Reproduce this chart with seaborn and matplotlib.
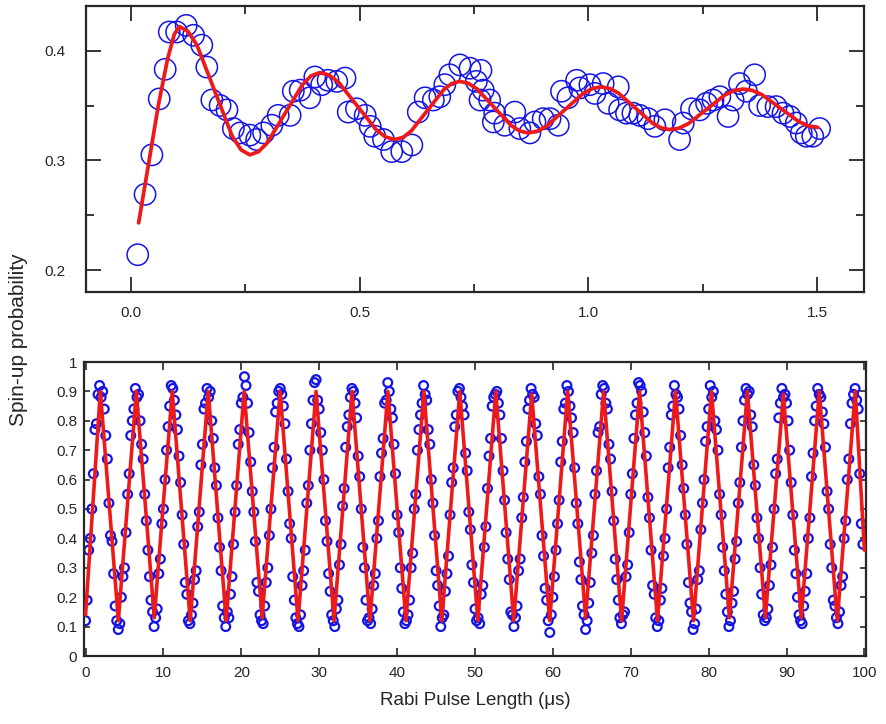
import matplotlib
matplotlib.use("Agg")
import matplotlib.pyplot as plt
import seaborn as sns
from matplotlib.ticker import FixedLocator, FixedFormatter

# ---------------------------------------------------------------------------
# Data
# ---------------------------------------------------------------------------

# top panel: short pulses, damped oscillation
TOP_T_US = [
    0.015, 0.031, 0.046, 0.062, 0.075, 0.084, 0.100, 0.121, 0.137, 0.155,
    0.166, 0.177, 0.195, 0.210, 0.224, 0.239, 0.260, 0.275, 0.290, 0.308,
    0.322, 0.348, 0.355, 0.370, 0.391, 0.402, 0.417, 0.431, 0.450, 0.468,
    0.475, 0.493, 0.512, 0.523, 0.533, 0.552, 0.570, 0.592, 0.614, 0.628,
    0.643, 0.661, 0.675, 0.686, 0.697, 0.719, 0.741, 0.755, 0.763, 0.765,
    0.770, 0.784, 0.795, 0.792, 0.817, 0.839, 0.850, 0.872, 0.883, 0.901,
    0.916, 0.934, 0.941, 0.955, 0.974, 0.981, 1.003, 1.014, 1.032, 1.043,
    1.065, 1.068, 1.083, 1.097, 1.112, 1.130, 1.145, 1.167, 1.199, 1.207,
    1.225, 1.243, 1.258, 1.272, 1.287, 1.305, 1.316, 1.330, 1.345, 1.363,
    1.374, 1.392, 1.410, 1.425, 1.440, 1.454, 1.465, 1.476, 1.490, 1.505,
]
TOP_P = [
    0.214, 0.269, 0.305, 0.356, 0.383, 0.417, 0.417, 0.423, 0.414, 0.405,
    0.385, 0.355, 0.350, 0.346, 0.329, 0.325, 0.323, 0.319, 0.325, 0.332,
    0.341, 0.341, 0.363, 0.364, 0.357, 0.376, 0.369, 0.373, 0.372, 0.375,
    0.344, 0.347, 0.341, 0.331, 0.322, 0.319, 0.308, 0.308, 0.314, 0.344,
    0.357, 0.355, 0.358, 0.369, 0.378, 0.387, 0.384, 0.372, 0.355, 0.382,
    0.364, 0.355, 0.343, 0.335, 0.332, 0.344, 0.329, 0.325, 0.335, 0.338,
    0.338, 0.332, 0.363, 0.357, 0.373, 0.366, 0.369, 0.361, 0.370, 0.352,
    0.367, 0.346, 0.343, 0.343, 0.341, 0.338, 0.331, 0.337, 0.319, 0.334,
    0.347, 0.346, 0.352, 0.355, 0.358, 0.340, 0.355, 0.370, 0.363, 0.378,
    0.350, 0.349, 0.349, 0.343, 0.340, 0.334, 0.325, 0.322, 0.322, 0.329,
]
TOP_FIT_T = [
    0.017, 0.04, 0.06, 0.08, 0.095, 0.106,
    0.125, 0.1445, 0.183, 0.2215, 0.241, 0.260,
    0.279, 0.298, 0.3365, 0.375, 0.394, 0.413,
    0.4335, 0.454, 0.495, 0.536, 0.5565, 0.577,
    0.595, 0.6125, 0.648, 0.6835, 0.701, 0.719,
    0.7376, 0.7563, 0.7935, 0.8308, 0.8494, 0.868,
    0.888, 0.908, 0.948, 0.988, 1.008, 1.028,
    1.0468, 1.0655, 1.103, 1.1405, 1.1593, 1.178,
    1.198, 1.218, 1.258, 1.298, 1.318, 1.338,
    1.3584, 1.3788, 1.4195, 1.4603, 1.4806, 1.501,
]
TOP_FIT_P = [
    0.243, 0.300, 0.350, 0.392, 0.415, 0.422,
    0.4175, 0.405, 0.3635, 0.322, 0.3095, 0.305,
    0.3079, 0.316, 0.3425, 0.369, 0.3771, 0.380,
    0.3777, 0.3711, 0.3495, 0.3279, 0.3213, 0.319,
    0.321, 0.3267, 0.3455, 0.3643, 0.370, 0.372,
    0.3702, 0.3651, 0.3485, 0.3319, 0.3268, 0.325,
    0.3266, 0.3311, 0.346, 0.3609, 0.3654, 0.367,
    0.3655, 0.3613, 0.3475, 0.3337, 0.3295, 0.328,
    0.3294, 0.3334, 0.3465, 0.3596, 0.3636, 0.365,
    0.3637, 0.3599, 0.3475, 0.3351, 0.3313, 0.330,
]

# bottom panel: long scan, 0-100 us
RABI_T_US = [
    0.0, 0.2, 0.4, 0.6, 0.8, 1.0, 1.2, 1.4, 1.6, 1.8,
    2.0, 2.2, 2.4, 2.6, 2.8, 3.0, 3.2, 3.4, 3.6, 3.8,
    4.0, 4.2, 4.4, 4.6, 4.8, 5.0, 5.2, 5.4, 5.6, 5.8,
    6.0, 6.2, 6.4, 6.6, 6.8, 7.0, 7.2, 7.4, 7.6, 7.8,
    8.0, 8.2, 8.4, 8.6, 8.8, 9.0, 9.2, 9.4, 9.6, 9.8,
    10.0, 10.2, 10.4, 10.6, 10.8, 11.0, 11.2, 11.4, 11.6, 11.8,
    12.0, 12.2, 12.4, 12.6, 12.8, 13.0, 13.2, 13.4, 13.6, 13.8,
    14.0, 14.2, 14.4, 14.6, 14.8, 15.0, 15.2, 15.4, 15.6, 15.8,
    16.0, 16.2, 16.4, 16.6, 16.8, 17.0, 17.2, 17.4, 17.6, 17.8,
    18.0, 18.2, 18.4, 18.6, 18.8, 19.0, 19.2, 19.4, 19.6, 19.8,
    20.0, 20.2, 20.4, 20.6, 20.8, 21.0, 21.2, 21.4, 21.6, 21.8,
    22.0, 22.2, 22.4, 22.6, 22.8, 23.0, 23.2, 23.4, 23.6, 23.8,
    24.0, 24.2, 24.4, 24.6, 24.8, 25.0, 25.2, 25.4, 25.6, 25.8,
    26.0, 26.2, 26.4, 26.6, 26.8, 27.0, 27.2, 27.4, 27.6, 27.8,
    28.0, 28.2, 28.4, 28.6, 28.8, 29.0, 29.2, 29.4, 29.6, 29.8,
    30.0, 30.2, 30.4, 30.6, 30.8, 31.0, 31.2, 31.4, 31.6, 31.8,
    32.0, 32.2, 32.4, 32.6, 32.8, 33.0, 33.2, 33.4, 33.6, 33.8,
    34.0, 34.2, 34.4, 34.6, 34.8, 35.0, 35.2, 35.4, 35.6, 35.8,
    36.0, 36.2, 36.4, 36.6, 36.8, 37.0, 37.2, 37.4, 37.6, 37.8,
    38.0, 38.2, 38.4, 38.6, 38.8, 39.0, 39.2, 39.4, 39.6, 39.8,
    40.0, 40.2, 40.4, 40.6, 40.8, 41.0, 41.2, 41.4, 41.6, 41.8,
    42.0, 42.2, 42.4, 42.6, 42.8, 43.0, 43.2, 43.4, 43.6, 43.8,
    44.0, 44.2, 44.4, 44.6, 44.8, 45.0, 45.2, 45.4, 45.6, 45.8,
    46.0, 46.2, 46.4, 46.6, 46.8, 47.0, 47.2, 47.4, 47.6, 47.8,
    48.0, 48.2, 48.4, 48.6, 48.8, 49.0, 49.2, 49.4, 49.6, 49.8,
    50.0, 50.2, 50.4, 50.6, 50.8, 51.0, 51.2, 51.4, 51.6, 51.8,
    52.0, 52.2, 52.4, 52.6, 52.8, 53.0, 53.2, 53.4, 53.6, 53.8,
    54.0, 54.2, 54.4, 54.6, 54.8, 55.0, 55.2, 55.4, 55.6, 55.8,
    56.0, 56.2, 56.4, 56.6, 56.8, 57.0, 57.2, 57.4, 57.6, 57.8,
    58.0, 58.2, 58.4, 58.6, 58.8, 59.0, 59.2, 59.4, 59.6, 59.8,
    60.0, 60.2, 60.4, 60.6, 60.8, 61.0, 61.2, 61.4, 61.6, 61.8,
    62.0, 62.2, 62.4, 62.6, 62.8, 63.0, 63.2, 63.4, 63.6, 63.8,
    64.0, 64.2, 64.4, 64.6, 64.8, 65.0, 65.2, 65.4, 65.6, 65.8,
    66.0, 66.2, 66.4, 66.6, 66.8, 67.0, 67.2, 67.4, 67.6, 67.8,
    68.0, 68.2, 68.4, 68.6, 68.8, 69.0, 69.2, 69.4, 69.6, 69.8,
    70.0, 70.2, 70.4, 70.6, 70.8, 71.0, 71.2, 71.4, 71.6, 71.8,
    72.0, 72.2, 72.4, 72.6, 72.8, 73.0, 73.2, 73.4, 73.6, 73.8,
    74.0, 74.2, 74.4, 74.6, 74.8, 75.0, 75.2, 75.4, 75.6, 75.8,
    76.0, 76.2, 76.4, 76.6, 76.8, 77.0, 77.2, 77.4, 77.6, 77.8,
    78.0, 78.2, 78.4, 78.6, 78.8, 79.0, 79.2, 79.4, 79.6, 79.8,
    80.0, 80.2, 80.4, 80.6, 80.8, 81.0, 81.2, 81.4, 81.6, 81.8,
    82.0, 82.2, 82.4, 82.6, 82.8, 83.0, 83.2, 83.4, 83.6, 83.8,
    84.0, 84.2, 84.4, 84.6, 84.8, 85.0, 85.2, 85.4, 85.6, 85.8,
    86.0, 86.2, 86.4, 86.6, 86.8, 87.0, 87.2, 87.4, 87.6, 87.8,
    88.0, 88.2, 88.4, 88.6, 88.8, 89.0, 89.2, 89.4, 89.6, 89.8,
    90.0, 90.2, 90.4, 90.6, 90.8, 91.0, 91.2, 91.4, 91.6, 91.8,
    92.0, 92.2, 92.4, 92.6, 92.8, 93.0, 93.2, 93.4, 93.6, 93.8,
    94.0, 94.2, 94.4, 94.6, 94.8, 95.0, 95.2, 95.4, 95.6, 95.8,
    96.0, 96.2, 96.4, 96.6, 96.8, 97.0, 97.2, 97.4, 97.6, 97.8,
    98.0, 98.2, 98.4, 98.6, 98.8, 99.0, 99.2, 99.4, 99.6, 99.8,
]
RABI_P = [
    .12, .19, .36, .40, .50, .62, .77, .79, .89, .92,
    .88, .90, .84, .75, .67, .52, .41, .39, .28, .17,
    .12, .09, .11, .20, .27, .30, .42, .55, .62, .75,
    .80, .84, .91, .88, .89, .80, .72, .67, .55, .46,
    .36, .27, .19, .15, .10, .13, .16, .28, .33, .45,
    .50, .60, .70, .78, .85, .92, .91, .87, .82, .77,
    .68, .59, .48, .38, .25, .21, .12, .11, .14, .18,
    .26, .29, .44, .49, .65, .72, .84, .86, .91, .88,
    .90, .80, .74, .64, .58, .47, .37, .29, .17, .13,
    .10, .15, .13, .21, .27, .38, .49, .58, .72, .77,
    .86, .88, .95, .92, .86, .76, .66, .56, .49, .39,
    .25, .22, .14, .12, .11, .17, .25, .30, .41, .50,
    .64, .71, .83, .86, .90, .91, .89, .85, .79, .67,
    .56, .45, .40, .27, .19, .13, .11, .10, .14, .24,
    .29, .36, .52, .58, .70, .79, .87, .93, .94, .87,
    .84, .76, .70, .60, .46, .39, .28, .22, .14, .12,
    .10, .16, .19, .31, .38, .51, .57, .71, .78, .82,
    .88, .91, .90, .86, .81, .68, .61, .50, .37, .30,
    .19, .12, .13, .11, .16, .24, .28, .40, .46, .61,
    .69, .74, .86, .87, .93, .90, .84, .81, .72, .62,
    .48, .42, .30, .23, .15, .11, .12, .14, .19, .30,
    .35, .50, .55, .70, .77, .82, .86, .92, .89, .87,
    .77, .72, .60, .52, .41, .29, .24, .17, .10, .13,
    .14, .22, .28, .34, .48, .59, .64, .78, .82, .90,
    .91, .88, .85, .82, .69, .63, .49, .43, .31, .25,
    .16, .12, .13, .11, .21, .24, .37, .44, .57, .68,
    .74, .85, .88, .89, .90, .86, .82, .74, .63, .53,
    .42, .33, .26, .15, .14, .10, .13, .17, .29, .33,
    .47, .54, .66, .73, .84, .87, .91, .89, .88, .79,
    .75, .61, .55, .41, .34, .23, .19, .12, .08, .14,
    .20, .27, .36, .45, .53, .66, .73, .84, .86, .92,
    .90, .85, .81, .76, .64, .52, .45, .32, .26, .17,
    .14, .09, .12, .18, .25, .35, .41, .55, .63, .76,
    .78, .89, .92, .91, .86, .84, .72, .67, .56, .46,
    .33, .26, .19, .13, .11, .14, .15, .27, .31, .42,
    .55, .62, .74, .82, .86, .93, .92, .90, .83, .76,
    .68, .54, .47, .36, .24, .21, .13, .10, .12, .19,
    .23, .34, .40, .50, .64, .71, .82, .85, .92, .89,
    .88, .84, .75, .65, .57, .48, .38, .25, .18, .15,
    .09, .11, .16, .26, .29, .43, .52, .60, .73, .78,
    .84, .92, .88, .90, .80, .77, .70, .55, .48, .37,
    .29, .21, .15, .10, .12, .18, .22, .33, .39, .52,
    .59, .71, .80, .87, .91, .89, .90, .82, .78, .65,
    .58, .47, .40, .30, .21, .14, .12, .13, .16, .24,
    .31, .37, .50, .62, .67, .81, .86, .91, .88, .89,
    .86, .80, .70, .59, .48, .36, .28, .20, .14, .12,
    .11, .17, .22, .28, .40, .47, .61, .69, .80, .85,
    .91, .89, .88, .83, .79, .71, .56, .50, .38, .30,
    .19, .17, .13, .11, .15, .24, .27, .40, .46, .60,
    .67, .79, .86, .89, .91, .87, .84, .62, .45, .38,
]
RABI_FIT_T = [
    0.0, 1.9, 4.21, 6.52, 8.82, 11.13, 13.44, 15.75, 18.05, 20.36,
    22.67, 24.98, 27.28, 29.59, 31.9, 34.21, 36.51, 38.82, 41.13, 43.44,
    45.74, 48.05, 50.36, 52.67, 54.97, 57.28, 59.59, 61.9, 64.2, 66.51,
    68.82, 71.13, 73.43, 75.74, 78.05, 80.36, 82.66, 84.97, 87.28, 89.59,
    91.89, 94.2, 96.51, 98.82, 100.0,
]
RABI_FIT_P = [
    0.14, 0.90, 0.12, 0.90, 0.13, 0.90, 0.12, 0.90, 0.12, 0.90,
    0.13, 0.90, 0.12, 0.90, 0.12, 0.90, 0.12, 0.90, 0.12, 0.90,
    0.12, 0.90, 0.12, 0.90, 0.12, 0.89, 0.12, 0.90, 0.13, 0.90,
    0.12, 0.90, 0.12, 0.90, 0.12, 0.90, 0.13, 0.90, 0.13, 0.89,
    0.13, 0.90, 0.12, 0.90, 0.36,
]

BLUE = "#1414e6"
RED = "#ee1a1a"
INK = "#262626"

# ---------------------------------------------------------------------------
# Figure
# ---------------------------------------------------------------------------

sns.set_theme(style="ticks")
plt.rcParams["font.family"] = ["Liberation Sans", "DejaVu Sans"]

fig = plt.figure(figsize=(8.86, 7.24), dpi=100)
W, H = 886, 724
ax1 = fig.add_axes([86 / W, 1 - 292 / H, 778 / W, 286 / H])
ax2 = fig.add_axes([84 / W, 1 - 656 / H, 782 / W, 294 / H])

# top panel
sns.scatterplot(x=TOP_T_US, y=TOP_P, ax=ax1, marker="o", s=235,
                facecolors="none", edgecolor=BLUE, linewidth=1.1, zorder=2)
sns.lineplot(x=TOP_FIT_T, y=TOP_FIT_P, ax=ax1, color=RED, linewidth=2.7,
             sort=False, estimator=None, zorder=3)
ax1.set_xlim(-0.098, 1.602)
ax1.set_ylim(0.180, 0.4407)
ax1.xaxis.set_major_locator(FixedLocator([0.0, 0.5, 1.0, 1.5]))
ax1.xaxis.set_major_formatter(FixedFormatter(["0.0", "0.5", "1.0", "1.5"]))
ax1.xaxis.set_minor_locator(FixedLocator([0.25, 0.75, 1.25]))
ax1.yaxis.set_major_locator(FixedLocator([0.2, 0.3, 0.4]))
ax1.yaxis.set_major_formatter(FixedFormatter(["0.2", "0.3", "0.4"]))
ax1.yaxis.set_minor_locator(FixedLocator([0.25, 0.35]))
ax1.tick_params(which="major", direction="in", top=True, right=True,
                length=11, width=1.3, color=INK, labelsize=11,
                labelcolor=INK)
ax1.tick_params(which="minor", direction="in", top=True, right=True,
                length=5.5, width=1.3, color=INK)
ax1.tick_params(axis="y", which="major", pad=15)
ax1.tick_params(axis="x", which="major", pad=10)

# bottom panel
sns.scatterplot(x=RABI_T_US, y=RABI_P, ax=ax2, marker="o", s=40,
                facecolors="none", edgecolor=BLUE, linewidth=1.6, zorder=2)
sns.lineplot(x=RABI_FIT_T, y=RABI_FIT_P, ax=ax2, color=RED, linewidth=2.6,
             sort=False, estimator=None, zorder=3)
ax2.set_xlim(-0.2, 100.2)
ax2.set_ylim(0, 1)
ax2.xaxis.set_major_locator(FixedLocator(list(range(0, 101, 10))))
yt = [0, 0.1, 0.2, 0.3, 0.4, 0.5, 0.6, 0.7, 0.8, 0.9, 1]
ax2.yaxis.set_major_locator(FixedLocator(yt))
ax2.yaxis.set_major_formatter(FixedFormatter(
    ["0", "0.1", "0.2", "0.3", "0.4", "0.5", "0.6", "0.7", "0.8", "0.9", "1"]))
ax2.tick_params(direction="in", top=True, right=True, width=1.2, color=INK,
                labelsize=11, labelcolor=INK)
ax2.tick_params(axis="x", length=6, pad=7)
ax2.tick_params(axis="y", length=4, pad=5)
ax2.set_xlabel("Rabi Pulse Length (μs)", fontsize=13.5, color=INK, labelpad=9)

for ax in (ax1, ax2):
    for sp in ax.spines.values():
        sp.set_linewidth(1.6)
        sp.set_color(INK)

fig.text(19 / W, 1 - 340 / H, "Spin-up probability", rotation=90,
         ha="center", va="center", fontsize=15, color=INK)

fig.savefig("out.png", dpi=100)
